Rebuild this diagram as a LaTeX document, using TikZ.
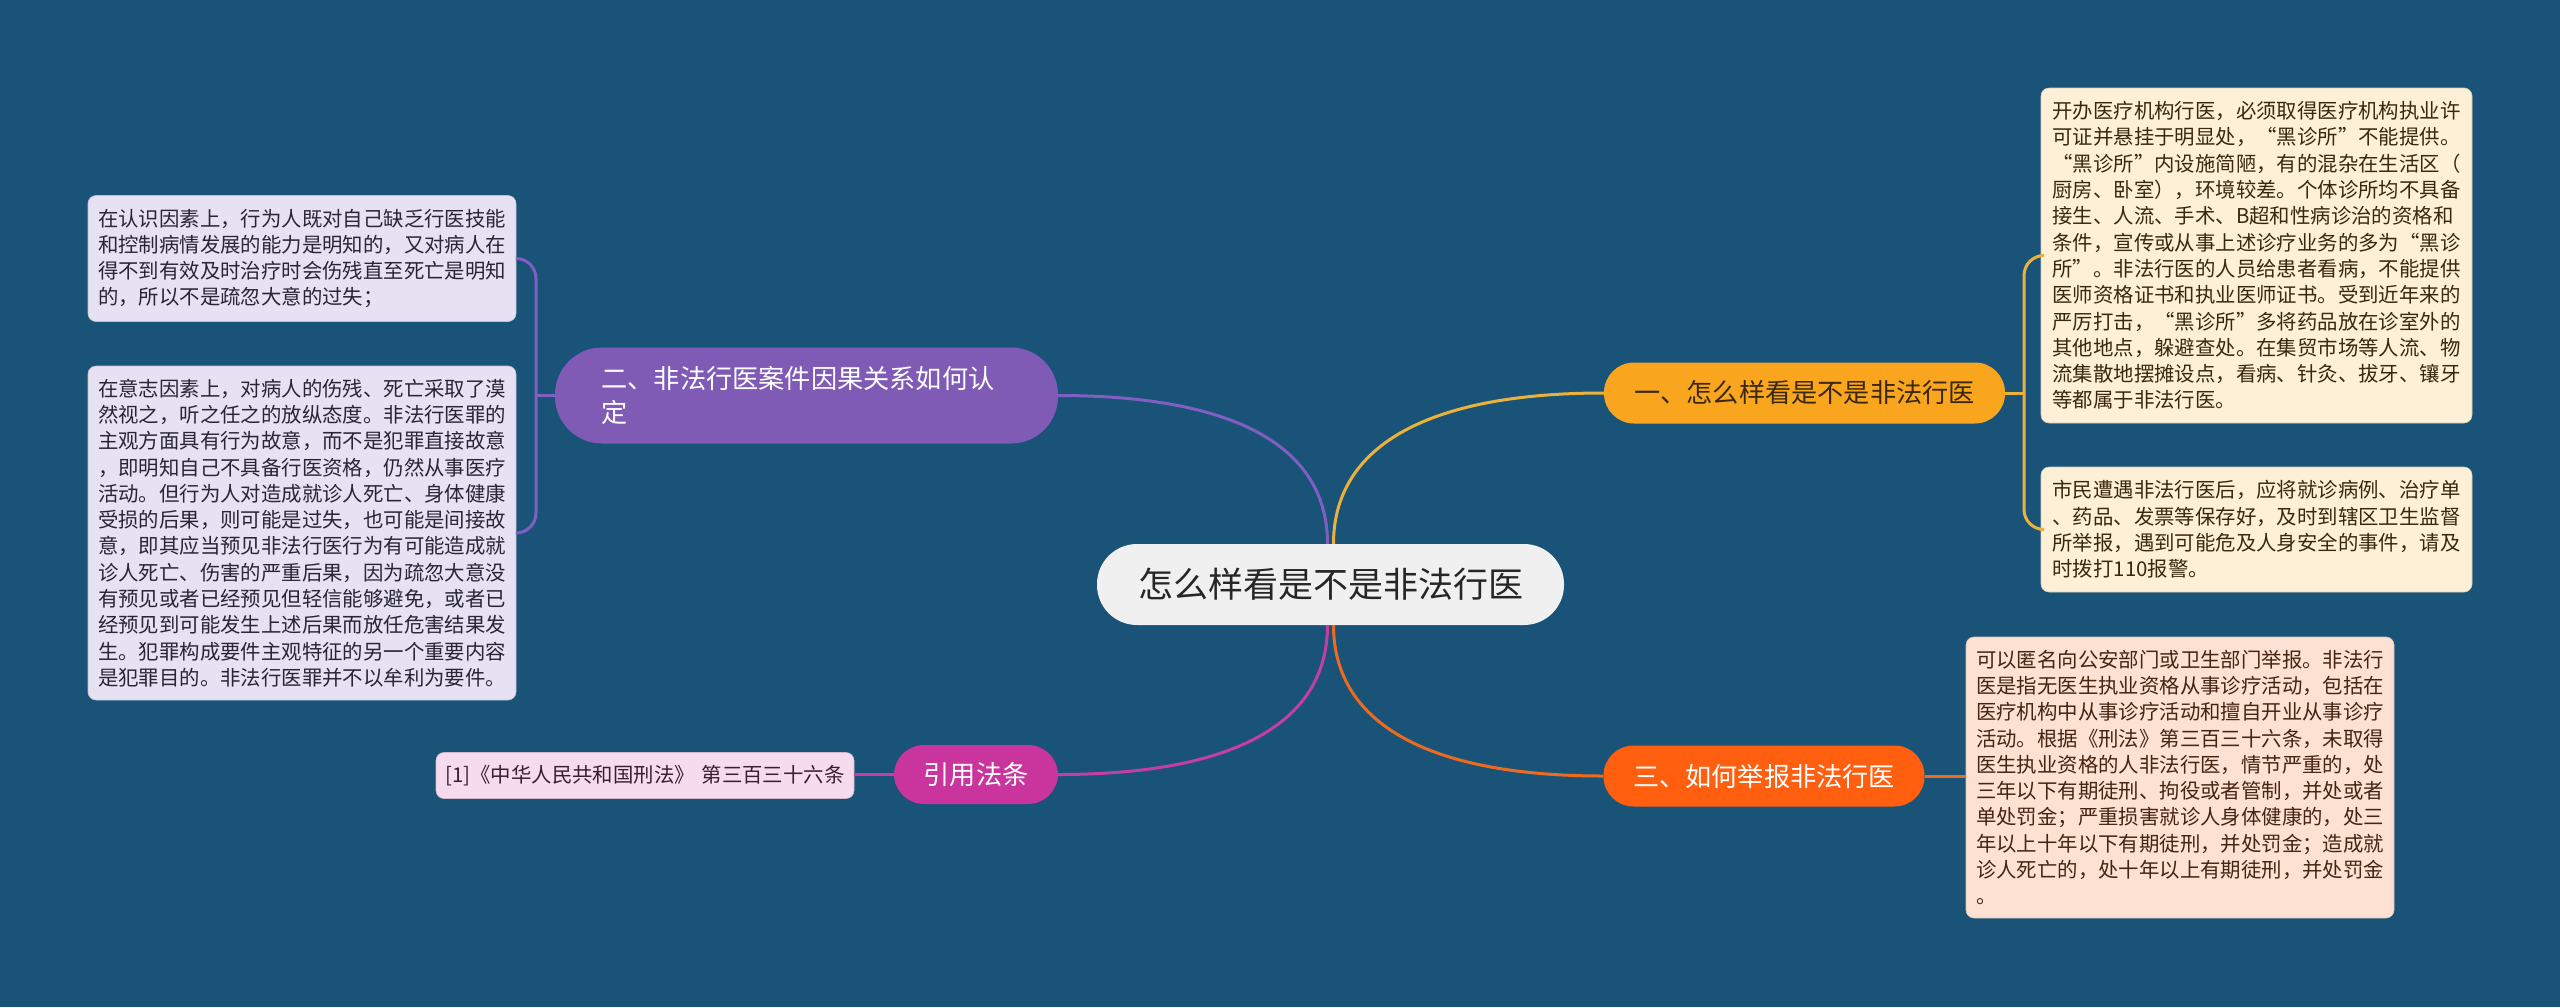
\documentclass[tikz,border=0pt]{standalone}
\usepackage{fontspec}
\newfontfamily\cjk{Noto Sans CJK SC}
\definecolor{bg}{RGB}{26,83,120}
\definecolor{cfill}{RGB}{240,240,240}
\definecolor{bone}{RGB}{249,166,30}
\definecolor{btwo}{RGB}{127,91,182}
\definecolor{bthree}{RGB}{255,95,14}
\definecolor{bfour}{RGB}{201,53,157}
\definecolor{lone}{RGB}{253,240,214}
\definecolor{ltwo}{RGB}{230,225,243}
\definecolor{lthree}{RGB}{253,226,212}
\definecolor{lfour}{RGB}{246,218,238}
\definecolor{kone}{RGB}{234,178,60}
\definecolor{ktwo}{RGB}{128,94,194}
\definecolor{kthree}{RGB}{238,106,30}
\definecolor{kfour}{RGB}{196,62,166}
\definecolor{tone}{RGB}{58,40,14}
\definecolor{ttwo}{RGB}{40,38,52}
\definecolor{tthree}{RGB}{70,36,18}
\definecolor{tfour}{RGB}{58,30,48}
\begin{document}
\begin{tikzpicture}[x=1pt,y=-1pt,
  centerbox/.style={fill=cfill,rounded corners=40pt,minimum width=467pt,minimum height=81pt,inner sep=0pt,
    font=\cjk\fontsize{35pt}{40pt}\selectfont,text=black!85},
  branchbox/.style={rounded corners=30pt,minimum height=61pt,inner sep=0pt,
    font=\cjk\fontsize{26.2pt}{34pt}\selectfont},
  leafbox/.style={rounded corners=8pt,inner xsep=0pt,inner ysep=0pt,align=left,text width=408pt,
    font=\cjk\fontsize{20.4pt}{26.3pt}\selectfont},
  conn/.style={line width=3pt},
]
\useasboundingbox (0,0) rectangle (2560,1007);
\fill[bg] (0,0) rectangle (2560,1007);

% nodes
\node[centerbox] (c) at (1330.5,584.5) {怎么样看是不是非法行医};
\node[branchbox,fill=bone,text=tone,minimum width=401pt] (b1) at (1804.5,393) {一、怎么样看是不是非法行医};
\node[branchbox,fill=btwo,text=white,minimum width=503pt,minimum height=96pt,rounded corners=47pt,
  align=left,text width=410pt] (b2) at (806.5,395.5) {二、非法行医案件因果关系如何认\\定};
\node[branchbox,fill=bthree,text=white,minimum width=321pt] (b3) at (1764,776) {三、如何举报非法行医};
\node[branchbox,fill=bfour,text=white,minimum width=164pt,minimum height=59pt] (b4) at (976,774.5) {引用法条};

\node[leafbox,fill=lone,text=tone,draw=lone!85!black,line width=0.6pt,minimum width=431pt,minimum height=335pt] (l1a) at (2256.5,255.5)
{开办医疗机构行医，必须取得医疗机构执业许\\可证并悬挂于明显处，“黑诊所”不能提供。\\“黑诊所”内设施简陋，有的混杂在生活区（\\厨房、卧室），环境较差。个体诊所均不具备\\接生、人流、手术、B超和性病诊治的资格和\\条件，宣传或从事上述诊疗业务的多为“黑诊\\所”。非法行医的人员给患者看病，不能提供\\医师资格证书和执业医师证书。受到近年来的\\严厉打击，“黑诊所”多将药品放在诊室外的\\其他地点，躲避查处。在集贸市场等人流、物\\流集散地摆摊设点，看病、针灸、拔牙、镶牙\\等都属于非法行医。};
\node[leafbox,fill=lone,text=tone,draw=lone!85!black,line width=0.6pt,minimum width=431pt,minimum height=125pt] (l1b) at (2256.5,529.5)
{市民遭遇非法行医后，应将就诊病例、治疗单\\、药品、发票等保存好，及时到辖区卫生监督\\所举报，遇到可能危及人身安全的事件，请及\\时拨打110报警。};
\node[leafbox,fill=lthree,text=tthree,draw=lthree!85!black,line width=0.6pt,minimum width=428pt,minimum height=281pt] (l3) at (2180,777.5)
{可以匿名向公安部门或卫生部门举报。非法行\\医是指无医生执业资格从事诊疗活动，包括在\\医疗机构中从事诊疗活动和擅自开业从事诊疗\\活动。根据《刑法》第三百三十六条，未取得\\医生执业资格的人非法行医，情节严重的，处\\三年以下有期徒刑、拘役或者管制，并处或者\\单处罚金；严重损害就诊人身体健康的，处三\\年以上十年以下有期徒刑，并处罚金；造成就\\诊人死亡的，处十年以上有期徒刑，并处罚金\\。};
\node[leafbox,fill=ltwo,text=ttwo,draw=ltwo!85!black,line width=0.6pt,minimum width=428pt,minimum height=126pt] (l2a) at (302,258.5)
{在认识因素上，行为人既对自己缺乏行医技能\\和控制病情发展的能力是明知的，又对病人在\\得不到有效及时治疗时会伤残直至死亡是明知\\的，所以不是疏忽大意的过失；};
\node[leafbox,fill=ltwo,text=ttwo,draw=ltwo!85!black,line width=0.6pt,minimum width=428pt,minimum height=334pt] (l2b) at (302,533)
{在意志因素上，对病人的伤残、死亡采取了漠\\然视之，听之任之的放纵态度。非法行医罪的\\主观方面具有行为故意，而不是犯罪直接故意\\，即明知自己不具备行医资格，仍然从事医疗\\活动。但行为人对造成就诊人死亡、身体健康\\受损的后果，则可能是过失，也可能是间接故\\意，即其应当预见非法行医行为有可能造成就\\诊人死亡、伤害的严重后果，因为疏忽大意没\\有预见或者已经预见但轻信能够避免，或者已\\经预见到可能发生上述后果而放任危害结果发\\生。犯罪构成要件主观特征的另一个重要内容\\是犯罪目的。非法行医罪并不以牟利为要件。};
\node[leafbox,fill=lfour,text=tfour,draw=lfour!85!black,line width=0.6pt,minimum width=418pt,minimum height=46pt,text width=400pt,align=center] (l4) at (645,775.5)
{[1]《中华人民共和国刑法》 第三百三十六条};

% connectors from center
\draw[conn,kone] ([xshift=3pt]c.north) .. controls +(0,-94) and +(-183,0) .. (b1.west);
\draw[conn,ktwo] ([xshift=-3pt]c.north) .. controls +(0,-94) and +(183,0) .. (b2.east);
\draw[conn,kthree] ([xshift=3pt]c.south) .. controls +(0,94) and +(-183,0) .. (b3.west);
\draw[conn,kfour] ([xshift=-3pt]c.south) .. controls +(0,94) and +(183,0) .. (b4.east);

% brackets
\coordinate (j1) at (2024,393);
\coordinate (j2) at (536,395.5);
\draw[conn,kone] (b1.east) -- (j1);
\draw[conn,kone,rounded corners=20pt] (l1a.west) -- (l1a.west -| j1) -- (l1b.west -| j1) -- (l1b.west);
\draw[conn,ktwo] (b2.west) -- (j2);
\draw[conn,ktwo,rounded corners=20pt] (l2a.east) -- (l2a.east -| j2) -- (l2b.east -| j2) -- (l2b.east);
\draw[conn,kthree] (b3.east) -- (l3.west |- b3.east);
\draw[conn,kfour] (b4.west) -- (l4.east |- b4.west);
\end{tikzpicture}
\end{document}
